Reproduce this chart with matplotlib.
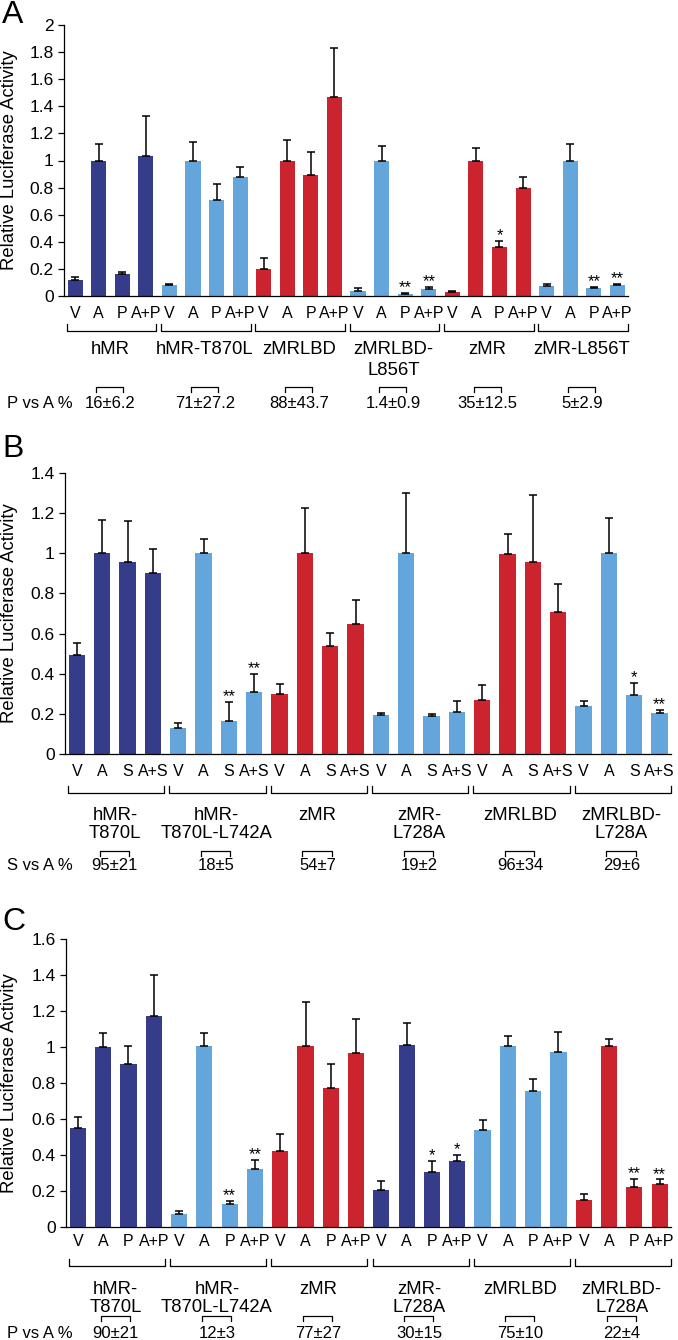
import matplotlib
matplotlib.use("Agg")
import matplotlib.pyplot as plt
from matplotlib.transforms import blended_transform_factory
import numpy as np

plt.rcParams["font.family"] = ["Liberation Sans", "DejaVu Sans"]

W, H = 678, 1340
NAVY, SKY, RED = "#353C8A", "#64A6DB", "#CB242E"

# ---- panel A ----
a_treat = ["V", "A", "P", "A+P"]
a_groups = ["hMR", "hMR-T870L", "zMRLBD", "zMRLBD-\nL856T", "zMR", "zMR-L856T"]
a_colors = [NAVY, SKY, RED, SKY, RED, SKY]
a_vals = [0.12, 1.0, 0.16, 1.03, 0.08, 1.0, 0.71, 0.88,
          0.20, 1.0, 0.89, 1.47, 0.04, 1.0, 0.012, 0.055,
          0.027, 1.0, 0.36, 0.80, 0.073, 1.0, 0.058, 0.08]
a_err = [0.02, 0.12, 0.02, 0.30, 0.01, 0.14, 0.12, 0.075,
         0.08, 0.15, 0.175, 0.36, 0.017, 0.11, 0.01, 0.014,
         0.007, 0.09, 0.045, 0.075, 0.015, 0.12, 0.01, 0.01]
a_sig = ["", "", "", "", "", "", "", "",
         "", "", "", "", "", "", "**", "**",
         "", "", "*", "", "", "", "**", "**"]
a_stat_label = "P vs A %"
a_stats = ["16±6.2", "71±27.2", "88±43.7", "1.4±0.9", "35±12.5", "5±2.9"]

# ---- panel B ----
b_treat = ["V", "A", "S", "A+S"]
b_groups = ["hMR-\nT870L", "hMR-\nT870L-L742A", "zMR", "zMR-\nL728A", "zMRLBD", "zMRLBD-\nL728A"]
b_colors = [NAVY, SKY, RED, SKY, RED, SKY]
b_vals = [0.495, 1.0, 0.955, 0.90, 0.128, 1.0, 0.165, 0.307,
          0.30, 1.0, 0.537, 0.65, 0.193, 1.0, 0.188, 0.21,
          0.27, 0.997, 0.956, 0.705, 0.237, 1.0, 0.294, 0.206]
b_err = [0.06, 0.165, 0.205, 0.12, 0.026, 0.07, 0.095, 0.09,
         0.05, 0.227, 0.065, 0.115, 0.013, 0.30, 0.013, 0.052,
         0.074, 0.098, 0.334, 0.142, 0.026, 0.176, 0.06, 0.015]
b_sig = ["", "", "", "", "", "", "**", "**",
         "", "", "", "", "", "", "", "",
         "", "", "", "", "", "", "*", "**"]
b_stat_label = "S vs A %"
b_stats = ["95±21", "18±5", "54±7", "19±2", "96±34", "29±6"]

# ---- panel C ----
c_treat = ["V", "A", "P", "A+P"]
c_groups = ["hMR-\nT870L", "hMR-\nT870L-L742A", "zMR", "zMR-\nL728A", "zMRLBD", "zMRLBD-\nL728A"]
c_colors = [NAVY, SKY, RED, NAVY, SKY, RED]
c_vals = [0.549, 1.0, 0.905, 1.17, 0.075, 1.007, 0.127, 0.32,
          0.424, 1.008, 0.774, 0.967, 0.205, 1.01, 0.306, 0.365,
          0.538, 1.008, 0.753, 0.971, 0.151, 1.008, 0.222, 0.238]
c_err = [0.062, 0.08, 0.10, 0.23, 0.014, 0.073, 0.018, 0.055,
         0.09, 0.244, 0.13, 0.19, 0.05, 0.124, 0.063, 0.034,
         0.058, 0.052, 0.07, 0.11, 0.033, 0.034, 0.047, 0.026]
c_sig = ["", "", "", "", "", "", "**", "**",
         "", "", "", "", "", "", "*", "*",
         "", "", "", "", "", "", "**", "**"]
c_stat_label = "P vs A %"
c_stats = ["90±21", "12±3", "77±27", "30±15", "75±10", "22±4"]


fig = plt.figure(figsize=(W / 100, H / 100), dpi=100)


def fy(px):
    """pixel row (from top) -> figure fraction"""
    return 1 - px / H


def draw_panel(letter, letter_y, box, ymax, treat, groups, colors, vals, err, sig,
               stat_label, stats, offs, name_step):
    left, right, top, bottom = box
    ax = fig.add_axes([left / W, fy(bottom), (right - left) / W, (bottom - top) / H])
    x = np.arange(len(vals))
    bar_colors = [c for c in colors for _ in treat]
    ax.bar(x, vals, width=0.64, color=bar_colors,
           yerr=[np.zeros(len(err)), err],
           error_kw=dict(ecolor="black", elinewidth=1.1, capsize=3, capthick=1.1))
    for xi, v, e, s in zip(x, vals, err, sig):
        if s:
            ax.annotate(s, (xi, v + e), xytext=(0, 0.5), textcoords="offset points",
                        ha="center", va="baseline", fontsize=12)

    ax.set_xlim(-0.47, len(vals) - 0.55)
    ax.set_ylim(0, ymax)
    ticks = np.round(np.arange(0, ymax + 0.01, 0.2), 1)
    ax.set_yticks(ticks)
    ax.set_yticklabels([f"{t:g}" for t in ticks])
    ax.tick_params(axis="y", length=4.5, width=0.9, pad=3, labelsize=12.5)
    ax.tick_params(axis="x", length=0, labelbottom=False)
    for side in ("top", "right"):
        ax.spines[side].set_visible(False)
    for side in ("left", "bottom"):
        ax.spines[side].set_linewidth(0.9)

    fig.text(2 / W, fy(letter_y), letter, fontsize=23, ha="left", va="top")
    fig.text(10 / W, fy((top + bottom) / 2), "Relative Luciferase Activity",
             rotation=90, ha="center", va="center", fontsize=13.3)

    tr = blended_transform_factory(ax.transData, fig.transFigure)
    d_lab, d_br, d_name, d_sbr, d_stat = offs
    n = len(treat)
    for i, xi in enumerate(x):
        ax.text(xi, fy(bottom + d_lab), treat[i % n], transform=tr,
                ha="center", va="center", fontsize=11.5)
    for g, name in enumerate(groups):
        g0 = g * n
        yb, yt = fy(bottom + d_br), fy(bottom + d_br - 7)
        ax.plot([g0 - 0.35, g0 - 0.35, g0 + n - 0.55, g0 + n - 0.55], [yt, yb, yb, yt],
                transform=tr, clip_on=False, color="black", lw=0.9)
        for k, line in enumerate(name.split("\n")):
            ax.text(g0 + 1.5, fy(bottom + d_name + k * name_step), line, transform=tr,
                    ha="center", va="center", fontsize=13.3)
        ys, yd = fy(bottom + d_sbr), fy(bottom + d_sbr + 5)
        ax.plot([g0 + 0.9, g0 + 0.9, g0 + 2.05, g0 + 2.05], [yd, ys, ys, yd],
                transform=tr, clip_on=False, color="black", lw=0.9)
        ax.text(g0 + 1.5, fy(bottom + d_stat), stats[g], transform=tr,
                ha="center", va="center", fontsize=12)
    fig.text(7 / W, fy(bottom + d_stat), stat_label, ha="left", va="center", fontsize=12)
    return ax


draw_panel("A", 0, (64, 628, 25, 296), 2.0, a_treat, a_groups, a_colors, a_vals, a_err,
           a_sig, a_stat_label, a_stats, (17, 35, 54, 91, 107), 21)
draw_panel("B", 434, (65, 671, 473, 754), 1.4, b_treat, b_groups, b_colors, b_vals, b_err,
           b_sig, b_stat_label, b_stats, (17, 39, 61, 97, 112), 19)
draw_panel("C", 907, (66, 671, 939, 1227), 1.6, c_treat, c_groups, c_colors, c_vals, c_err,
           c_sig, c_stat_label, c_stats, (15, 39, 62, 89, 106), 18)

fig.savefig("out.png", dpi=100)
